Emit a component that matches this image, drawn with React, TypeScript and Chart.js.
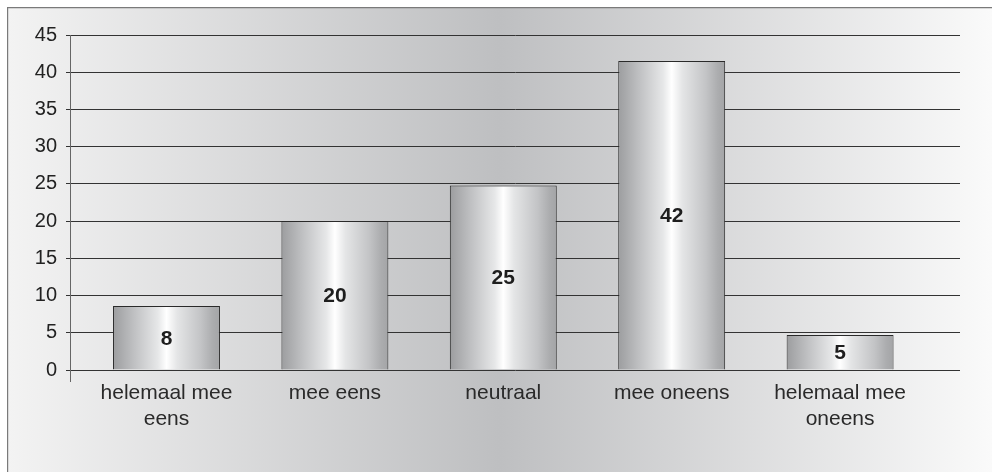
import React, { useEffect, useRef } from "react";
import { Chart, registerables } from "chart.js";

Chart.register(...registerables);

const CATEGORIES: (string | string[])[] = [
  ["helemaal mee", "eens"],
  "mee eens",
  "neutraal",
  "mee oneens",
  ["helemaal mee", "oneens"],
];
const VALUES = [8.6, 20.0, 24.8, 41.5, 4.7];
const VALUE_LABELS = ["8", "20", "25", "42", "5"];
const Y_MIN = 0;
const Y_MAX = 45;
const Y_STEP = 5;

const X_MIN = -0.573;
const X_MAX = 4.712;
const BAR_PCT = 0.635;
const FONT = "'Liberation Sans', Arial, sans-serif";

const backgroundPlugin = {
  id: "bgFrame",
  beforeDraw(chart: any) {
    const { ctx, width, height } = chart;
    ctx.save();
    const g = ctx.createLinearGradient(0, 0, width, 0);
    g.addColorStop(0, "#f3f3f3");
    g.addColorStop(0.5, "#bebfc1");
    g.addColorStop(1, "#fafafa");
    ctx.fillStyle = g;
    ctx.fillRect(0, 0, width, height);
    ctx.strokeStyle = "#7a7a7a";
    ctx.lineWidth = 1.2;
    ctx.beginPath();
    ctx.moveTo(0.6, height);
    ctx.lineTo(0.6, 0.6);
    ctx.lineTo(width, 0.6);
    ctx.stroke();
    ctx.restore();
  },
  afterDraw(chart: any) {
    const { ctx, chartArea } = chart;
    ctx.save();
    ctx.strokeStyle = "#666";
    ctx.lineWidth = 1;
    const x = Math.round(chartArea.left) + 0.5;
    ctx.beginPath();
    ctx.moveTo(x, chartArea.bottom);
    ctx.lineTo(x, chartArea.bottom + 12);
    ctx.stroke();
    ctx.restore();
  },
};

const valueLabelPlugin = {
  id: "valueLabels",
  afterDatasetsDraw(chart: any) {
    const { ctx } = chart;
    const meta = chart.getDatasetMeta(0);
    ctx.save();
    ctx.font = `bold 21px ${FONT}`;
    ctx.fillStyle = "#1e1e1e";
    ctx.textAlign = "center";
    ctx.textBaseline = "middle";
    meta.data.forEach((el: any, i: number) => {
      const y = (el.y + el.base) / 2;
      ctx.fillText(VALUE_LABELS[i], el.x, y + 1);
    });
    ctx.restore();
  },
};

function barGradient(c: any) {
  const chart = c.chart;
  const xs = chart.scales && chart.scales.x;
  if (!xs) return "#d0d0d0";
  const p0 = xs.getPixelForValue(0);
  const p1 = xs.getPixelForValue(1);
  const cx = xs.getPixelForValue(c.dataIndex);
  const step = p1 - p0;
  if (!isFinite(cx) || !isFinite(step) || step <= 0) return "#d0d0d0";
  const half = (step * BAR_PCT) / 2;
  const g = chart.ctx.createLinearGradient(cx - half, 0, cx + half, 0);
  g.addColorStop(0, "#9c9d9f");
  g.addColorStop(0.2, "#c0c1c3");
  g.addColorStop(0.42, "#e6e7e8");
  g.addColorStop(0.5, "#ffffff");
  g.addColorStop(0.6, "#e4e5e6");
  g.addColorStop(0.82, "#c3c4c6");
  g.addColorStop(0.93, "#acadaf");
  g.addColorStop(1, "#a3a4a6");
  return g;
}

export default function App() {
  const ref = useRef<HTMLCanvasElement | null>(null);

  useEffect(() => {
    if (!ref.current) return;
    const chart = new Chart(ref.current, {
      type: "bar",
      data: {
        datasets: [
          {
            data: VALUES.map((v, i) => ({ x: i, y: v })),
            backgroundColor: barGradient as any,
            borderColor: "#2a2a2a",
            borderWidth: 1,
            barPercentage: BAR_PCT,
            categoryPercentage: 1,
          },
        ],
      },
      options: {
        animation: false,
        responsive: false,
        maintainAspectRatio: false,
        layout: { padding: { top: 28, right: 32, left: 0, bottom: 0 } },
        plugins: {
          legend: { display: false },
          tooltip: { enabled: false },
        },
        scales: {
          x: {
            type: "linear",
            offset: false,
            min: X_MIN,
            max: X_MAX,
            grid: { display: false, drawTicks: false, offset: false },
            border: { display: false },
            afterBuildTicks: (scale: any) => {
              scale.ticks = CATEGORIES.map((_, i) => ({ value: i }));
            },
            afterFit: (scale: any) => {
              scale.height = 102;
            },
            ticks: {
              autoSkip: false,
              maxRotation: 0,
              minRotation: 0,
              padding: 10,
              color: "#2a2a2a",
              font: { family: FONT, size: 21, lineHeight: 1.25 },
              callback: (value: any) => CATEGORIES[Math.round(Number(value))] as any,
            },
          },
          y: {
            min: Y_MIN,
            max: Y_MAX,
            afterFit: (scale: any) => {
              scale.width = 63;
            },
            grid: {
              color: "#333333",
              lineWidth: 1,
              tickLength: 4,
              drawTicks: true,
            },
            border: { display: true, color: "#666666", width: 1 },
            ticks: {
              stepSize: Y_STEP,
              padding: 9,
              color: "#222",
              font: { family: FONT, size: 20 },
            },
          },
        },
      },
      plugins: [backgroundPlugin, valueLabelPlugin],
    });
    return () => chart.destroy();
  }, []);

  return (
    <div style={{ position: "fixed", left: 7, top: 7, width: 985, height: 465 }}>
      <canvas ref={ref} width={985} height={465} style={{ display: "block" }} />
    </div>
  );
}
